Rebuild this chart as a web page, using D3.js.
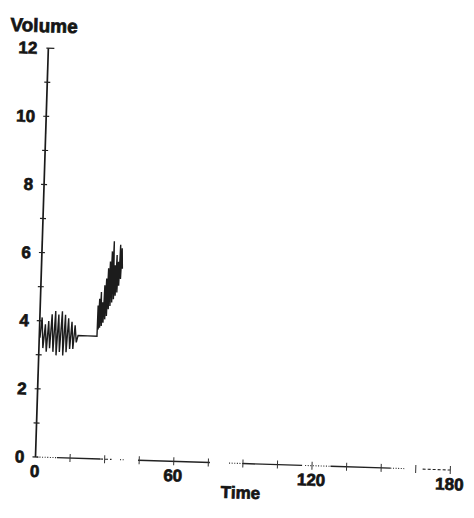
<!DOCTYPE html>
<html>
<head>
<meta charset="utf-8">
<script src="https://cdn.jsdelivr.net/npm/d3@7"></script>
<style>
  body { margin: 0; background: #fff; }
  svg { display: block; }
  text { font-family: "Liberation Sans", Arial, sans-serif; font-weight: bold; fill: #151515; stroke: #151515; stroke-width: 0.7px; }
</style>
</head>
<body>
<svg id="chart"></svg>
<script>
// trace
const time = [
  0.3, 1.0, 1.7, 2.5, 3.2, 3.9, 4.6, 5.3, 6.1, 6.8, 7.5, 8.2, 8.9, 9.7, 10.4,
  11.1, 11.8, 12.5, 13.3, 14.0, 14.7, 15.4, 16.1, 16.8, 21.0, 25.0,
  25.1, 25.4, 25.7, 26.0, 26.35, 26.7, 27.05, 27.4, 27.75, 28.1, 28.45, 28.8,
  29.15, 29.5, 29.85, 30.2, 30.55, 30.9, 31.25, 31.6, 31.95, 32.3, 32.65,
  33.0, 33.35, 33.7, 34.05, 34.4, 34.75, 35.1
];
const volume = [
  3.5, 4.1, 3.2, 3.9, 3.1, 4.0, 3.2, 4.2, 3.1, 4.3, 3.0, 4.2, 3.1, 4.3, 3.0,
  4.2, 3.1, 4.1, 3.2, 4.0, 3.2, 3.9, 3.4, 3.6, 3.6, 3.6,
  4.5, 3.8, 4.7, 3.85, 4.9, 3.9, 4.6, 4.0, 5.1, 4.1, 5.3, 4.2,
  5.6, 4.4, 5.8, 4.5, 6.1, 4.6, 6.4, 4.7, 5.7, 4.8, 6.0,
  4.9, 5.8, 5.1, 6.3, 5.3, 6.2, 5.6
];

const yLabels = [0, 2, 4, 6, 8, 10, 12];
const xLabels = [0, 60, 120, 180];

// the printed time axis is broken up in the scan
const axisSegments = [
  { from: 0.6, to: 9.3, style: "dot" },
  { from: 9.3, to: 28, style: "solid" },
  { from: 28, to: 33, style: "dash" },
  { from: 36.7, to: 38.8, style: "dot" },
  { from: 44.5, to: 75.7, style: "solid" },
  { from: 84, to: 90, style: "dot" },
  { from: 90, to: 115.7, style: "solid" },
  { from: 117, to: 128, style: "dot" },
  { from: 128, to: 154, style: "solid" },
  { from: 154, to: 160, style: "dot" },
  { from: 168, to: 180, style: "dash" }
];

const width = 474, height = 518;
const svg = d3.select("#chart").attr("width", width).attr("height", height);

// the scan is slightly skewed, so the whole chart sits in a rotated group
const g = svg.append("g").attr("transform", "translate(35.5,457) rotate(1.8)");

const x = d3.scaleLinear().domain([0, 180]).range([0, 415]);
const y = d3.scaleLinear().domain([0, 12]).range([0, -409]);

// y axis
g.append("line")
  .attr("x1", 0).attr("x2", 0)
  .attr("y1", y(0)).attr("y2", y(12))
  .attr("stroke", "#1a1a1a").attr("stroke-width", 1.7);

g.selectAll(".ytick")
  .data(d3.range(0, 13))
  .join("line")
  .attr("x1", d => d === 12 ? -2 : -3)
  .attr("x2", d => d === 12 ? 6 : 3)
  .attr("y1", d => y(d)).attr("y2", d => y(d))
  .attr("stroke", "#222").attr("stroke-width", 1.2);

g.selectAll(".ylab")
  .data(yLabels)
  .join("text")
  .attr("x", -11)
  .attr("y", d => y(d) + 6)
  .attr("text-anchor", "end")
  .style("font-size", "17px")
  .text(d => d);

// x axis
const dashes = { dot: "1,1.6", dash: "3,2", solid: null };
g.selectAll(".xseg")
  .data(axisSegments)
  .join("line")
  .attr("x1", d => x(d.from)).attr("x2", d => x(d.to))
  .attr("y1", 0).attr("y2", 0)
  .attr("stroke", "#222")
  .attr("stroke-width", d => d.style === "solid" ? 1.4 : 1.1)
  .attr("stroke-dasharray", d => dashes[d.style]);

g.selectAll(".xtick")
  .data(d3.range(15, 181, 15))
  .join("line")
  .attr("x1", d => x(d)).attr("x2", d => x(d))
  .attr("y1", -4).attr("y2", 4)
  .attr("stroke", "#333").attr("stroke-width", 1);

g.selectAll(".xlab")
  .data(xLabels)
  .join("text")
  .attr("x", d => x(d) - 0.5)
  .attr("y", 20)
  .attr("text-anchor", "middle")
  .style("font-size", "17px")
  .text(d => d);

// axis titles
g.append("text")
  .attr("x", -5).attr("y", -425)
  .attr("text-anchor", "middle")
  .style("font-size", "19px")
  .text("Volume");

g.append("text")
  .attr("x", 206).attr("y", 35)
  .attr("text-anchor", "middle")
  .style("font-size", "17px")
  .text("Time");

// trace
const points = time.map((t, i) => [t, volume[i]]);
g.append("path")
  .datum(points)
  .attr("fill", "none")
  .attr("stroke", "#1c1c1c")
  .attr("stroke-width", 1.4)
  .attr("stroke-linejoin", "miter")
  .attr("d", d3.line().x(d => x(d[0])).y(d => y(d[1])));
</script>
</body>
</html>
